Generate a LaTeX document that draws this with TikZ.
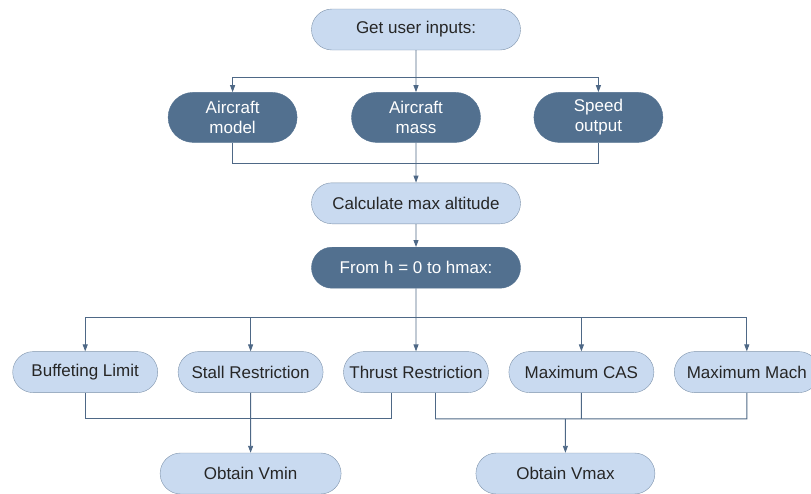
\documentclass[tikz,border=0pt]{standalone}
\usepackage{fontspec}
\setmainfont{Liberation Sans}
\usetikzlibrary{arrows.meta, positioning, shapes.misc}
\definecolor{paleblue}{HTML}{C9DAF0}
\definecolor{slateblue}{HTML}{52708F}
\definecolor{edgegray}{HTML}{7E93AB}
\definecolor{wireblue}{HTML}{4E6886}

\begin{document}
\begin{tikzpicture}[
  node distance=20pt,
  light/.style={rounded rectangle, draw=edgegray, fill=paleblue, text=black!85, font=\fontsize{17}{20}\selectfont, minimum width=149pt, minimum height=41pt, inner sep=2pt},
  dark/.style={rounded rectangle, draw=slateblue, fill=slateblue, text=white, font=\fontsize{17}{20}\selectfont, align=center, minimum width=133pt, minimum height=50pt, inner sep=2pt},
  wire/.style={draw=wireblue, line width=0.9pt},
  flow/.style={wire, -{Triangle[length=7pt, width=5pt]}}
]
\useasboundingbox (0,0) rectangle (811pt,-493pt);

% Top level
\node[light, minimum width=213pt] (inputs) at (416pt,-29.5pt) {Get user inputs:};

% Inputs
\node[dark, below=42pt of inputs] (mass) {Aircraft\\mass};
\node[dark, left=54pt of mass] (model) {Aircraft\\model};
\node[dark, right=53pt of mass] (speed) {Speed\\output};

% Altitude loop
\node[light, minimum width=213pt, below=40pt of mass] (altitude) {Calculate max altitude};
\node[dark, minimum width=213pt, minimum height=41pt, below=23pt of altitude] (loop) {From h = 0 to hmax:};

% Limits
\node[light, below=63pt of loop] (thrust) {Thrust Restriction};
\node[light, left=of thrust] (stall) {Stall Restriction};
\node[light, left=of stall] (buffet) {Buffeting Limit};
\node[light, right=of thrust] (cas) {Maximum CAS};
\node[light, right=of cas] (mach) {Maximum Mach};

% Results
\node[light, minimum width=185pt, below=60pt of stall] (vmin) {Obtain Vmin};
\node[light, minimum width=183pt, below=60pt of cas, xshift=-16pt] (vmax) {Obtain Vmax};

% Arrows
\path (inputs.south) ++(0,-27pt) coordinate (split);
\draw[flow] (inputs) -- (mass);
\draw[flow] (split) -| (model);
\draw[flow] (split) -| (speed);

\path (mass.south) ++(0,-21pt) coordinate (merge);
\draw[wire] (model) |- (merge) -| (speed);
\draw[flow] (mass) -- (altitude);
\draw[flow] (altitude) -- (loop);

\path (loop.south) ++(0,-29pt) coordinate (fork);
\draw[flow] (loop) -- (thrust);
\draw[flow] (fork) -| (buffet);
\draw[flow] (fork) -| (stall);
\draw[flow] (fork) -| (cas);
\draw[flow] (fork) -| (mach);

\path (stall.south) ++(0,-26pt) coordinate (low);
\draw[wire] (buffet) |- (low) -| ([xshift=-24.5pt]thrust.south);
\draw[flow] (stall) -- (vmin);
\draw[wire] ([xshift=19.5pt]thrust.south) |- (mach |- low) -- (mach);
\draw[wire] (cas) -- (cas |- low);
\draw[flow] (vmax |- low) -- (vmax);

\end{tikzpicture}
\end{document}
